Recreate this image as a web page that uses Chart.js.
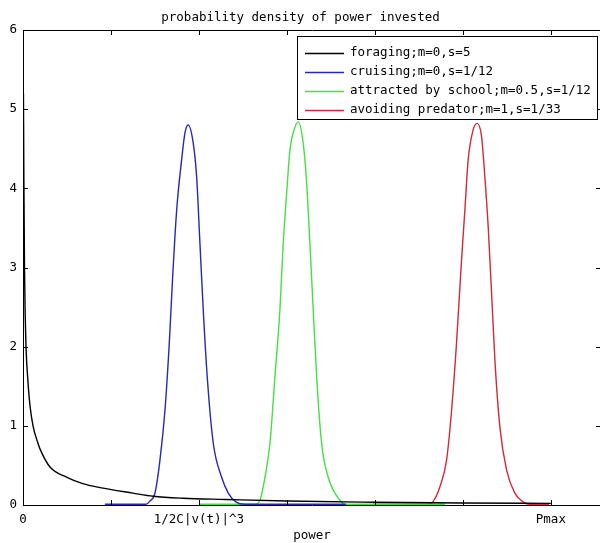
<!DOCTYPE html>
<html>
<head>
<meta charset="utf-8">
<script src="https://cdn.jsdelivr.net/npm/chart.js@4/dist/chart.umd.min.js"></script>
<style>
html,body{margin:0;padding:0;background:#fff;overflow:hidden;}
#wrap{width:602px;height:543px;position:relative;}
</style>
</head>
<body>
<div id="wrap"><canvas id="c" width="602" height="543"></canvas></div>
<script>
// ---- data (x in plot units, y = probability density) ----
const xTickValues = [0, 1, 2, 3, 4, 5, 6];
const xTickLabels = ['0', '', '1/2C|v(t)|^3', '', '', '', 'Pmax'];
const yTickValues = [0, 1, 2, 3, 4, 5, 6];

const seriesNames = ['foraging;m=0,s=5', 'cruising;m=0,s=1/12', 'attracted by school;m=0.5,s=1/12', 'avoiding predator;m=1,s=1/33'];

const blackX = [0.005, 0.01, 0.017, 0.025, 0.034, 0.057, 0.08, 0.114, 0.17, 0.2, 0.307, 0.5, 0.68, 0.875, 1.25, 1.48, 1.82, 2.3, 3.0, 4.0, 5.0, 6.0];
const blackY = [5.2, 4.1, 3.0, 2.4, 2.0, 1.55, 1.25, 1.0, 0.78, 0.69, 0.48, 0.35, 0.27, 0.22, 0.15, 0.11, 0.085, 0.07, 0.05, 0.035, 0.025, 0.02];

const blueX = [0.93, 1.40, 1.443, 1.5, 1.557, 1.614, 1.663, 1.701, 1.747, 1.803, 1.841, 1.878, 1.935, 1.974, 2.011, 2.049, 2.094, 2.163, 2.258, 2.333, 2.42, 2.52, 3.67];
const blueY = [0.01, 0.01, 0.05, 0.15, 0.57, 1.2, 2.05, 2.88, 3.73, 4.36, 4.7, 4.8, 4.57, 4.14, 3.31, 2.46, 1.62, 0.78, 0.35, 0.15, 0.04, 0.01, 0.01];

const greenX = [2.011, 2.636, 2.693, 2.75, 2.807, 2.864, 2.92, 2.958, 2.997, 3.034, 3.091, 3.128, 3.185, 3.224, 3.261, 3.299, 3.338, 3.394, 3.469, 3.602, 3.66, 4.795];
const greenY = [0.01, 0.01, 0.06, 0.35, 0.78, 1.62, 2.46, 3.31, 3.94, 4.48, 4.77, 4.84, 4.57, 4.07, 3.31, 2.46, 1.62, 0.78, 0.35, 0.06, 0.01, 0.01];

const redX = [3.977, 4.602, 4.659, 4.739, 4.815, 4.872, 4.928, 4.985, 5.023, 5.06, 5.117, 5.163, 5.213, 5.25, 5.288, 5.326, 5.364, 5.42, 5.497, 5.591, 5.685, 5.76, 5.977];
const redY = [0.01, 0.01, 0.04, 0.23, 0.57, 1.2, 2.05, 3.1, 3.73, 4.36, 4.74, 4.82, 4.65, 4.14, 3.51, 2.68, 1.83, 0.99, 0.44, 0.15, 0.04, 0.01, 0.01];

const seriesColors = ['#000000', '#2828b4', '#44e044', '#d02a3c'];

const FONT = '"DejaVu Sans Mono", monospace';
const pts = (xs, ys) => xs.map((x, i) => ({x: x, y: ys[i]}));

const matlabAxes = {
  id: 'matlabAxes',
  afterDatasetsDraw(chart) {
    const ctx = chart.ctx, a = chart.chartArea;
    const xs = chart.scales.x, ys = chart.scales.y;
    ctx.save();
    ctx.strokeStyle = '#000';
    ctx.lineWidth = 1;
    ctx.beginPath();
    ctx.rect(Math.round(a.left) + 0.5, Math.round(a.top) + 0.5, Math.round(a.right - a.left), Math.round(a.bottom - a.top));
    ctx.stroke();
    const L = 5;
    ctx.beginPath();
    xTickValues.forEach(v => {
      const px = Math.round(xs.getPixelForValue(v)) + 0.5;
      ctx.moveTo(px, a.bottom); ctx.lineTo(px, a.bottom - L);
      ctx.moveTo(px, a.top); ctx.lineTo(px, a.top + L);
    });
    yTickValues.forEach(v => {
      const py = Math.round(ys.getPixelForValue(v)) + 0.5;
      ctx.moveTo(a.left, py); ctx.lineTo(a.left + L, py);
      ctx.moveTo(a.right, py); ctx.lineTo(a.right - L, py);
    });
    ctx.stroke();
    ctx.restore();
  },
  afterDraw(chart) {
    const ctx = chart.ctx;
    const bx = 297.5, by = 36.5, bw = 300, bh = 83;
    ctx.save();
    ctx.fillStyle = '#fff';
    ctx.fillRect(bx, by, bw, bh);
    ctx.strokeStyle = '#000';
    ctx.lineWidth = 1;
    ctx.strokeRect(bx, by, bw, bh);
    ctx.font = '12.5px ' + FONT;
    ctx.textBaseline = 'middle';
    ctx.textAlign = 'left';
    chart.data.datasets.forEach((ds, i) => {
      const y = 53 + i * 19;
      ctx.strokeStyle = ds.borderColor;
      ctx.lineWidth = 1.3;
      ctx.beginPath();
      ctx.moveTo(305, y + 0.5); ctx.lineTo(344, y + 0.5);
      ctx.stroke();
      ctx.fillStyle = '#000';
      ctx.fillText(ds.label, 350, y);
    });
    ctx.restore();
  }
};

const mk = (i, xs, ys) => ({
  label: seriesNames[i],
  data: pts(xs, ys),
  borderColor: seriesColors[i],
  borderWidth: 1.4,
  pointRadius: 0,
  cubicInterpolationMode: 'monotone',
  fill: false
});

new Chart(document.getElementById('c'), {
  type: 'line',
  data: {
    datasets: [
      mk(0, blackX, blackY),
      mk(1, blueX, blueY),
      mk(2, greenX, greenY),
      mk(3, redX, redY)
    ]
  },
  options: {
    responsive: false,
    animation: false,
    layout: {padding: {left: 0, right: 1, top: 0, bottom: 0}},
    plugins: {
      legend: {display: false},
      tooltip: {enabled: false},
      title: {
        display: true,
        text: 'probability density of power invested',
        color: '#000',
        font: {family: FONT, size: 12.5, weight: 'normal', lineHeight: 1.2},
        padding: {top: 10, bottom: 5}
      }
    },
    scales: {
      x: {
        type: 'linear',
        min: 0,
        max: 6.57,
        afterBuildTicks(scale) { scale.ticks = xTickValues.map(v => ({value: v})); },
        afterFit(scale) { scale.height = 38; },
        grid: {display: false, drawTicks: false},
        border: {display: false},
        ticks: {
          autoSkip: false,
          maxRotation: 0,
          padding: 7,
          color: '#000',
          font: {family: FONT, size: 12.5},
          callback: (v) => { const k = xTickValues.indexOf(v); return k >= 0 ? xTickLabels[k] : ''; }
        },
        title: {
          display: true,
          text: 'power',
          color: '#000',
          font: {family: FONT, size: 12.5},
          padding: {top: 0, bottom: 0}
        }
      },
      y: {
        type: 'linear',
        min: 0,
        max: 6,
        afterBuildTicks(scale) { scale.ticks = yTickValues.map(v => ({value: v})); },
        afterFit(scale) { scale.width = 23; },
        grid: {display: false, drawTicks: false},
        border: {display: false},
        ticks: {
          padding: 6,
          color: '#000',
          font: {family: FONT, size: 12.5}
        }
      }
    }
  },
  plugins: [matlabAxes]
});
</script>
</body>
</html>
